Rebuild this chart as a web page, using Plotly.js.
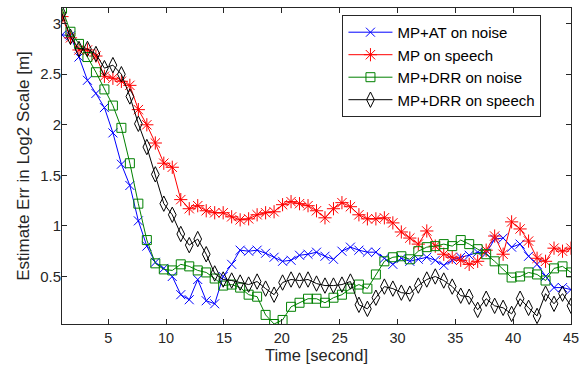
<!DOCTYPE html>
<html>
<head>
<meta charset="utf-8">
<script src="https://cdn.plot.ly/plotly-3.0.1.min.js"></script>
<style>html,body{margin:0;padding:0;background:#fff;}#chart{width:579px;height:365px;}</style>
</head>
<body>
<div id="chart"></div>
<script>
// time grid: 61 samples from 1 s to 45 s
const nSamples = 61;
const timeStart = 1;
const timeEnd = 45;
const time = Array.from({length: nSamples}, (_, i) => timeStart + i * (timeEnd - timeStart) / (nSamples - 1));

const seriesNames = ["MP+AT on noise", "MP on speech", "MP+DRR on noise", "MP+DRR on speech"];

const atNoise = [2.89,2.88,2.67,2.44,2.31,2.17,1.92,1.61,1.40,1.05,0.80,0.64,0.58,0.50,0.32,0.27,0.47,0.26,0.23,0.50,
  0.62,0.76,0.75,0.76,0.73,0.69,0.65,0.66,0.71,0.72,0.74,0.70,0.67,0.75,0.79,0.76,0.74,0.74,0.68,0.62,
  0.68,0.65,0.67,0.69,0.66,0.61,0.66,0.69,0.71,0.74,0.73,0.87,0.88,0.79,0.82,0.70,0.62,0.50,0.39,0.39,0.37];

const mpSpeech = [3.07,2.86,2.74,2.74,2.68,2.48,2.46,2.43,2.39,2.15,2.00,1.82,1.62,1.58,1.26,1.17,1.20,1.15,1.13,1.13,
  1.09,1.06,1.07,1.11,1.13,1.14,1.21,1.24,1.22,1.20,1.15,1.08,1.17,1.23,1.19,1.11,1.07,1.07,1.08,1.03,
  0.94,0.88,0.82,0.95,0.80,0.72,0.69,0.66,0.62,0.65,0.76,0.90,0.72,1.04,0.97,0.85,0.68,0.65,0.78,0.75,0.78];

const drrNoise = [3.15,2.92,2.80,2.67,2.52,2.35,2.19,1.97,1.62,1.22,0.86,0.63,0.57,0.56,0.62,0.60,0.56,0.54,0.48,0.41,
  0.42,0.39,0.32,0.30,0.12,0.03,0.07,0.20,0.24,0.28,0.28,0.24,0.29,0.32,0.38,0.42,0.38,0.52,0.65,0.69,
  0.70,0.67,0.75,0.79,0.80,0.82,0.80,0.86,0.82,0.77,0.72,0.65,0.57,0.49,0.50,0.54,0.52,0.46,0.58,0.60,0.54];

const drrSpeech = [3.10,2.87,2.75,2.75,2.70,2.56,2.59,2.50,2.28,2.01,1.78,1.51,1.22,1.11,0.92,0.81,0.87,0.72,0.53,0.47,
  0.46,0.44,0.42,0.45,0.38,0.32,0.44,0.47,0.46,0.47,0.43,0.41,0.41,0.42,0.45,0.22,0.18,0.29,0.40,0.38,
  0.34,0.33,0.41,0.47,0.50,0.46,0.40,0.31,0.30,0.17,0.28,0.21,0.19,0.13,0.28,0.19,0.11,0.33,0.23,0.33,0.21];

const xTicks = [5,10,15,20,25,30,35,40,45];
const yTicks = [0.5,1,1.5,2,2.5,3];
const yTickLabels = ["0.5","1","1.5","2","2.5","3"];

const styles = [
  {color:"#0000ff", symbol:"x-thin-open", size:9},
  {color:"#ff0000", symbol:"asterisk-open", size:11},
  {color:"#008000", symbol:"square-open", size:9},
  {color:"#000000", symbol:"diamond-tall-open", size:11}
];
const values = [atNoise, mpSpeech, drrNoise, drrSpeech];

const traces = values.map((v, k) => ({
  x: time, y: v, name: seriesNames[k], type: "scatter", mode: "lines+markers",
  line: {color: styles[k].color, width: 1},
  marker: {symbol: styles[k].symbol, size: styles[k].size, color: styles[k].color,
           line: {color: styles[k].color, width: 1}}
}));

const fontFam = "Liberation Sans, Arial, sans-serif";
const axisCommon = {
  showline: true, mirror: "ticks", linecolor: "#262626", linewidth: 1,
  ticks: "inside", ticklen: 5, tickcolor: "#262626", tickwidth: 1,
  showgrid: false, zeroline: false, ticklabeloverflow: "allow",
  tickfont: {family: fontFam, size: 15, color: "#262626"}
};

const layout = {
  width: 579, height: 365,
  margin: {l: 62, r: 8, t: 8, b: 41},
  paper_bgcolor: "#fff", plot_bgcolor: "#fff",
  font: {family: fontFam, size: 15, color: "#262626"},
  xaxis: Object.assign({}, axisCommon, {
    range: [timeStart, timeEnd], tickvals: xTicks, ticklabelstandoff: 1,
    tickfont: {family: fontFam, size: 14.5, color: "#262626"},
    title: {text: "Time [second]", font: {size: 16.5, color: "#262626"}, standoff: 1}
  }),
  yaxis: Object.assign({}, axisCommon, {
    range: [0.03, 3.155], tickvals: yTicks, ticktext: yTickLabels, ticklabelstandoff: -3,
    title: {text: "Estimate Err in Log2 Scale [m]", font: {size: 17, color: "#262626"}, standoff: 6}
  }),
  showlegend: true,
  legend: {
    x: 0.551, y: 0.978, xanchor: "left", yanchor: "top",
    bgcolor: "#ffffff", bordercolor: "#262626", borderwidth: 1,
    font: {family: fontFam, size: 15, color: "#000"},
    itemwidth: 44, tracegroupgap: 0
  }
};

Plotly.newPlot("chart", traces, layout, {displayModeBar: false, staticPlot: true});
</script>
</body>
</html>
